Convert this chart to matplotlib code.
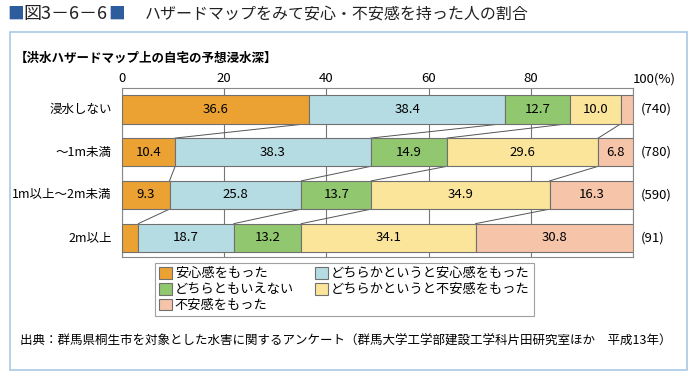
import matplotlib
matplotlib.use("Agg")
import matplotlib.pyplot as plt
from matplotlib.patches import Rectangle, Patch
import numpy as np

plt.rcParams['font.family'] = ['Noto Sans CJK JP', 'DejaVu Sans']

# データ
rows = ["浸水しない", "〜1m未満", "1m以上〜2m未満", "2m以上"]
counts = ["(740)", "(780)", "(590)", "(91)"]
categories = ["安心感をもった", "どちらかというと安心感をもった", "どちらともいえない",
              "どちらかというと不安感をもった", "不安感をもった"]
anshin = [36.6, 10.4, 9.3, 3.2]
yaya_anshin = [38.4, 38.3, 25.8, 18.7]
dochira = [12.7, 14.9, 13.7, 13.2]
yaya_fuan = [10.0, 29.6, 34.9, 34.1]
fuan = [2.3, 6.8, 16.3, 30.8]
xticks = [0, 20, 40, 60, 80, 100]

colors = ["#eca233", "#b5dce3", "#91c76f", "#fbe59b", "#f6c4a8"]
edge = "#707070"

W, H = 700, 378
fig = plt.figure(figsize=(W / 100, H / 100), dpi=100)

def fx(px):
    return px / W

def fy(py):
    return 1 - py / H

# 外枠
fig.patches.append(Rectangle((fx(10), fy(370)), fx(677), (370 - 32) / H, transform=fig.transFigure,
                             fill=False, edgecolor="#a9c8e6", linewidth=1.2))

# タイトル
fig.text(fx(7), fy(14), "■", color="#2e5d9e", fontsize=12, va="center")
fig.text(fx(23), fy(14), "図3－6－6", color="#222222", fontsize=13, va="center")
fig.text(fx(108), fy(14), "■", color="#2e5d9e", fontsize=12, va="center")
fig.text(fx(145), fy(14), "ハザードマップをみて安心・不安感を持った人の割合", color="#222222",
         fontsize=11.5, va="center")
fig.text(fx(15), fy(58), "【洪水ハザードマップ上の自宅の予想浸水深】", fontsize=9,
         fontweight="bold", va="center")

ax = fig.add_axes([fx(122), fy(257), (633 - 122) / W, (257 - 88) / H])
data = np.array([anshin, yaya_anshin, dochira, yaya_fuan, fuan]).T
y = np.arange(len(rows))
bh = 0.66
left = np.zeros(len(rows))
for j in range(data.shape[1]):
    ax.barh(y, data[:, j], left=left, height=bh, color=colors[j], edgecolor=edge,
            linewidth=0.8, zorder=3)
    for i in range(len(rows)):
        v = data[i, j]
        if v >= 5:
            ax.text(left[i] + v / 2, y[i], f"{v:.1f}", ha="center", va="center",
                    fontsize=9.5, zorder=4)
    left = left + data[:, j]

# 区切り線
cum = np.cumsum(data, axis=1)
for i in range(len(rows) - 1):
    for j in range(data.shape[1] - 1):
        ax.plot([cum[i, j], cum[i + 1, j]], [y[i] + bh / 2, y[i + 1] - bh / 2],
                color="#555555", linewidth=0.7, zorder=2)

ax.set_xlim(0, 100)
ax.set_ylim(3.45, -0.5)
ax.set_yticks([])
ax.set_xticks(xticks)
ax.xaxis.tick_top()
ax.tick_params(axis="x", length=0, pad=2, labelsize=9.5)
ax.set_xticklabels([str(t) for t in xticks[:-1]] + ["100(%)"])
ax.get_xticklabels()[-1].set_horizontalalignment("left")
ax.get_xticklabels()[-1].set_x(98)
ax.grid(axis="x", color="#777777", linewidth=0.8, zorder=0)
for s in ax.spines.values():
    s.set_color("#888888")
    s.set_linewidth(0.8)

for i in range(len(rows)):
    ax.text(-2, y[i], rows[i], ha="right", va="center", fontsize=9)
    ax.text(101.5, y[i], counts[i], ha="left", va="center", fontsize=9.5)

# 凡例
handles = [Patch(facecolor=colors[k], edgecolor=edge, linewidth=0.8) for k in range(5)]
order = [0, 2, 4, 1, 3]
leg = fig.legend([handles[k] for k in order], [categories[k] for k in order], ncol=2,
                 loc="upper left", bbox_to_anchor=(fx(155), fy(263)), borderaxespad=0,
                 fontsize=9.5, frameon=True, fancybox=False, handlelength=1.0,
                 handleheight=1.0, handletextpad=0.2, labelspacing=0.18,
                 columnspacing=1.6, borderpad=0.3)
leg.get_frame().set_edgecolor("#888888")
leg.get_frame().set_linewidth(0.8)

fig.text(fx(20), fy(341), "出典：群馬県桐生市を対象とした水害に関するアンケート（群馬大学工学部建設工学科片田研究室ほか　平成13年）",
         fontsize=9, va="center")

fig.savefig("out.png", dpi=100)
